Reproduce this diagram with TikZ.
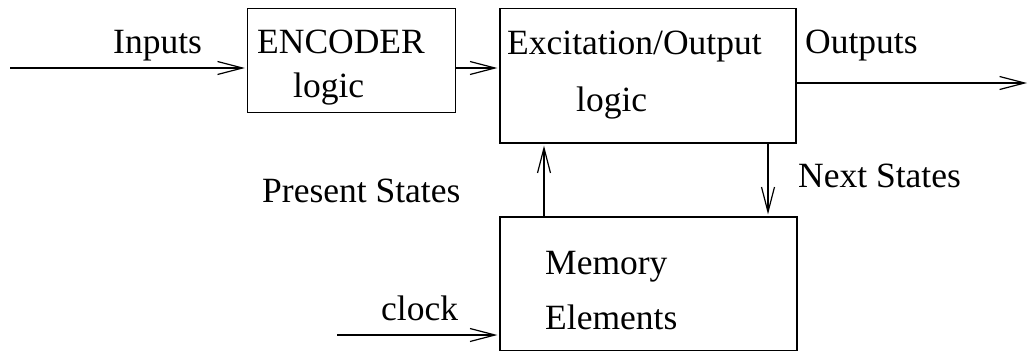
\documentclass[tikz,border=0pt]{standalone}
\usepackage{fontspec}
\setmainfont{Liberation Serif}
\usetikzlibrary{arrows.meta}
\begin{document}
\begin{tikzpicture}[x=1pt,y=-1pt,
  box/.style={draw,line width=1.2pt,inner sep=0pt,rectangle},
  lbl/.style={inner sep=0pt,anchor=base west,font=\fontsize{35.5}{40}\selectfont},
  arr/.style={line width=1.2pt,-{Straight Barb[length=25pt,width=13pt,line width=1.2pt]},shorten >=2pt}]
\useasboundingbox (0,0) rectangle (1028,354);
% boxes
\node[box,minimum width=208pt,minimum height=104pt] (enc) at (351.5,60.5) {};
\node[box,minimum width=296pt,minimum height=134.5pt] (exc) at (648,75.75) {};
\node[box,minimum width=297pt,minimum height=133.5pt] (mem) at (648.5,283.75) {};
% texts
\node[lbl] (tin) at (113,53) {Inputs};
\node[lbl] (tenc1) at (257,53) {ENCODER};
\node[lbl] (tenc2) at (293,97) {logic};
\node[lbl] (texc1) at (507,54) {Excitation/Output};
\node[lbl] (texc2) at (576,111) {logic};
\node[lbl] (tout) at (805,53) {Outputs};
\node[lbl] (tnext) at (798,187) {Next States};
\node[lbl] (tpres) at (262,202) {Present States};
\node[lbl] (tmem1) at (545,274) {Memory};
\node[lbl] (tmem2) at (545,329) {Elements};
\node[lbl] (tclk) at (381,320) {clock};
% connector coordinates
\coordinate (inA) at (10,68);
\coordinate (outA) at (1029,83);
\coordinate (upx) at (544,180);
\coordinate (dnx) at (768,180);
\coordinate (clk) at (337,335);
% connectors
\draw[arr] (inA) -- (inA -| enc.west);
\draw[arr] (enc.east |- inA) -- (exc.west |- inA);
\draw[arr] (exc.east |- outA) -- (outA);
\draw[arr] (mem.north -| upx) -- (exc.south -| upx);
\draw[arr] (exc.south -| dnx) -- (mem.north -| dnx);
\draw[arr] (clk) -- (clk -| mem.west);
\end{tikzpicture}
\end{document}
